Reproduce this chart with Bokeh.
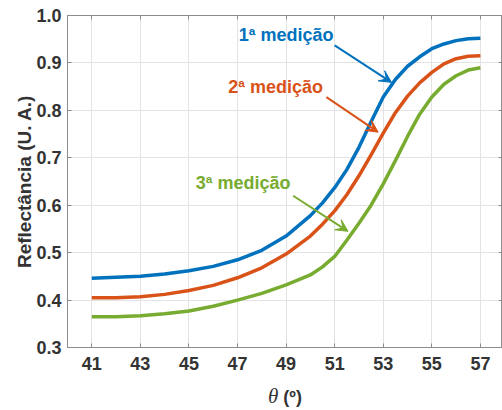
from bokeh.plotting import figure
from bokeh.layouts import column
from bokeh.models import (Range1d, LinearAxis, FixedTicker, Label, Arrow, VeeHead,
                          CustomJSTickFormatter, Div)
from bokeh.embed import file_html
from bokeh.resources import INLINE

# Incidence angle (degrees)
theta = [41, 42, 43, 44, 45, 46, 47, 48, 49, 50, 50.5, 51, 51.5, 52, 52.5,
         53, 53.5, 54, 54.5, 55, 55.5, 56, 56.5, 57]

# Reflectance for the three measurements (arbitrary units)
refl_1 = [0.446, 0.448, 0.450, 0.455, 0.462, 0.471, 0.485, 0.505, 0.535, 0.578,
          0.605, 0.637, 0.675, 0.722, 0.776, 0.828, 0.865, 0.893, 0.913, 0.930,
          0.940, 0.947, 0.951, 0.952]
refl_2 = [0.405, 0.405, 0.407, 0.412, 0.420, 0.431, 0.447, 0.468, 0.497, 0.535,
          0.560, 0.588, 0.622, 0.662, 0.706, 0.752, 0.795, 0.830, 0.858, 0.880,
          0.898, 0.909, 0.914, 0.915]
refl_3 = [0.365, 0.365, 0.367, 0.371, 0.377, 0.387, 0.400, 0.414, 0.432, 0.453,
          0.470, 0.492, 0.526, 0.562, 0.600, 0.645, 0.694, 0.745, 0.792, 0.828,
          0.855, 0.873, 0.885, 0.890]

series_names = ["1ª medição", "2ª medição", "3ª medição"]
colors = ["#0072BD", "#D95319", "#77AC30"]

x_ticks = [41, 43, 45, 47, 49, 51, 53, 55, 57]
y_ticks = [0.3, 0.4, 0.5, 0.6, 0.7, 0.8, 0.9, 1.0]

FONT = "Liberation Sans"
AXIS_GRAY = "#8c8c8c"
TEXT_DARK = "#333333"

p = figure(width=502, height=385, output_backend="svg", toolbar_location=None,
           x_range=Range1d(40, 57.91), y_range=Range1d(0.3, 1.0),
           min_border_left=67, min_border_right=0, min_border_top=15,
           min_border_bottom=38)
p.outline_line_color = AXIS_GRAY
p.outline_line_width = 1

for ax in (p.xaxis[0], p.yaxis[0]):
    ax.axis_line_color = AXIS_GRAY
    ax.major_tick_line_color = AXIS_GRAY
    ax.major_tick_in = 4
    ax.major_tick_out = 0
    ax.minor_tick_line_color = None
    ax.major_label_text_font = FONT
    ax.major_label_text_font_style = "bold"
    ax.major_label_text_font_size = "18px"
    ax.major_label_text_color = TEXT_DARK

p.xaxis.ticker = FixedTicker(ticks=x_ticks)
p.yaxis.ticker = FixedTicker(ticks=y_ticks)
p.yaxis.formatter = CustomJSTickFormatter(code="return tick.toFixed(1);")
p.xaxis.major_label_standoff = 9
p.yaxis.major_label_standoff = 6

p.yaxis.axis_label = "Reflectância (U. A.)"
p.yaxis.axis_label_text_font = FONT
p.yaxis.axis_label_text_font_style = "bold"
p.yaxis.axis_label_text_font_size = "19px"
p.yaxis.axis_label_text_color = TEXT_DARK
p.yaxis.axis_label_standoff = -2

# box axes on the top and right with inward ticks and no labels
for ticks, side in ((x_ticks, "above"), (y_ticks, "right")):
    box_axis = LinearAxis(ticker=FixedTicker(ticks=ticks),
                          formatter=CustomJSTickFormatter(code="return '';"),
                          axis_line_color=AXIS_GRAY, major_tick_line_color=AXIS_GRAY,
                          major_tick_in=4, major_tick_out=0, minor_tick_line_color=None,
                          major_label_standoff=0)
    p.add_layout(box_axis, side)

p.xgrid.ticker = FixedTicker(ticks=x_ticks)
p.ygrid.ticker = FixedTicker(ticks=y_ticks)
p.grid.grid_line_color = "#e3e3e3"
p.grid.grid_line_width = 1

for ys, c in zip([refl_1, refl_2, refl_3], colors):
    p.line(theta, ys, line_color=c, line_width=3.5, line_join="round")

# series annotations with arrows pointing at each curve
label_pos = [(49.0, 0.958), (48.57, 0.849), (47.23, 0.646)]
arrow_pos = [((51.0, 0.937), (53.34, 0.859)),
             ((50.66, 0.828), (52.79, 0.754)),
             ((49.29, 0.620), (51.55, 0.545))]
for name, c, (lx, ly), ((x0, y0), (x1, y1)) in zip(series_names, colors, label_pos, arrow_pos):
    p.add_layout(Label(x=lx, y=ly, text=name, text_color=c, text_font=FONT,
                       text_font_style="bold", text_font_size="18px",
                       text_align="center", text_baseline="middle"))
    p.add_layout(Arrow(x_start=x0, y_start=y0, x_end=x1, y_end=y1,
                       line_color=c, line_width=2,
                       end=VeeHead(size=12, line_color=c, fill_color=c, line_width=1)))

# x-axis title: italic theta followed by the degree unit
x_title = Div(
    text=('<span style="font-family:\'Liberation Serif\';font-style:italic;'
          'font-size:21px;color:#333333">θ</span>'
          '<span style="font-family:\'Liberation Sans\';font-weight:bold;'
          'font-size:18px;color:#333333;margin-left:5px">(º)</span>'),
    width=502, height=25, margin=(0, 0, 0, 0),
    styles={"padding-left": "268px", "line-height": "22px", "white-space": "nowrap"})

layout = column(p, x_title, spacing=0, margin=(0, 0, 0, 0))
open("out.html", "w").write(file_html(layout, INLINE))
